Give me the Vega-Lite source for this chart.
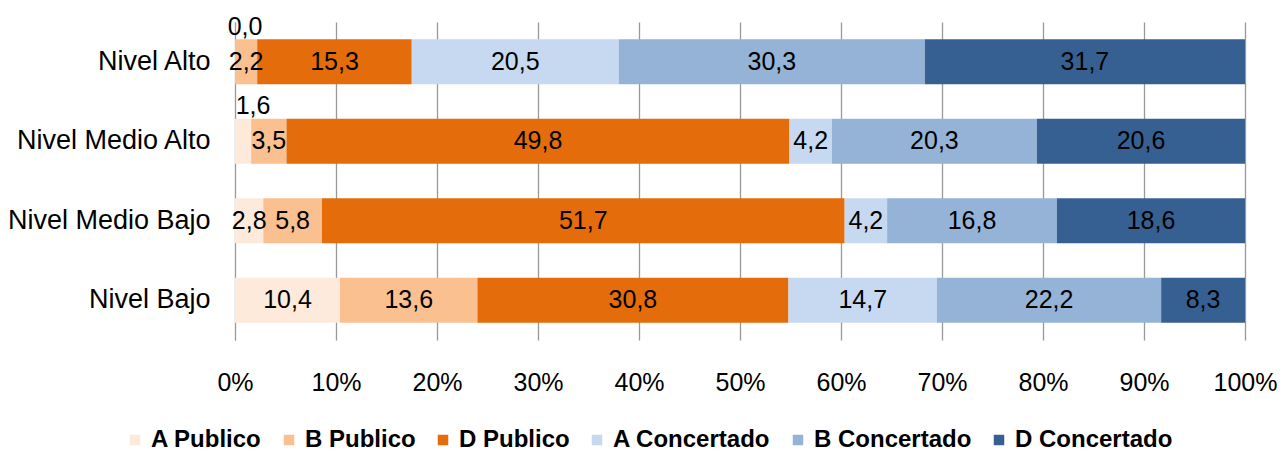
{
  "$schema": "https://vega.github.io/schema/vega-lite/v6.json",
  "width": 1010,
  "height": 318,
  "autosize": "none",
  "padding": {"left": 235, "top": 22, "right": 35, "bottom": 111},
  "background": "white",
  "config": {
    "locale": {"number": {"decimal": ",", "thousands": ".", "grouping": [3], "currency": ["", " €"]}},
    "view": {"stroke": null},
    "font": "Liberation Sans"
  },
  "data": {
    "values": [
      {"nivel": "Nivel Alto", "tipo": "A Publico", "orden": 1, "valor": 0.0},
      {"nivel": "Nivel Alto", "tipo": "B Publico", "orden": 2, "valor": 2.2},
      {"nivel": "Nivel Alto", "tipo": "D Publico", "orden": 3, "valor": 15.3},
      {"nivel": "Nivel Alto", "tipo": "A Concertado", "orden": 4, "valor": 20.5},
      {"nivel": "Nivel Alto", "tipo": "B Concertado", "orden": 5, "valor": 30.3},
      {"nivel": "Nivel Alto", "tipo": "D Concertado", "orden": 6, "valor": 31.7},
      {"nivel": "Nivel Medio Alto", "tipo": "A Publico", "orden": 1, "valor": 1.6},
      {"nivel": "Nivel Medio Alto", "tipo": "B Publico", "orden": 2, "valor": 3.5},
      {"nivel": "Nivel Medio Alto", "tipo": "D Publico", "orden": 3, "valor": 49.8},
      {"nivel": "Nivel Medio Alto", "tipo": "A Concertado", "orden": 4, "valor": 4.2},
      {"nivel": "Nivel Medio Alto", "tipo": "B Concertado", "orden": 5, "valor": 20.3},
      {"nivel": "Nivel Medio Alto", "tipo": "D Concertado", "orden": 6, "valor": 20.6},
      {"nivel": "Nivel Medio Bajo", "tipo": "A Publico", "orden": 1, "valor": 2.8},
      {"nivel": "Nivel Medio Bajo", "tipo": "B Publico", "orden": 2, "valor": 5.8},
      {"nivel": "Nivel Medio Bajo", "tipo": "D Publico", "orden": 3, "valor": 51.7},
      {"nivel": "Nivel Medio Bajo", "tipo": "A Concertado", "orden": 4, "valor": 4.2},
      {"nivel": "Nivel Medio Bajo", "tipo": "B Concertado", "orden": 5, "valor": 16.8},
      {"nivel": "Nivel Medio Bajo", "tipo": "D Concertado", "orden": 6, "valor": 18.6},
      {"nivel": "Nivel Bajo", "tipo": "A Publico", "orden": 1, "valor": 10.4},
      {"nivel": "Nivel Bajo", "tipo": "B Publico", "orden": 2, "valor": 13.6},
      {"nivel": "Nivel Bajo", "tipo": "D Publico", "orden": 3, "valor": 30.8},
      {"nivel": "Nivel Bajo", "tipo": "A Concertado", "orden": 4, "valor": 14.7},
      {"nivel": "Nivel Bajo", "tipo": "B Concertado", "orden": 5, "valor": 22.2},
      {"nivel": "Nivel Bajo", "tipo": "D Concertado", "orden": 6, "valor": 8.3}
    ]
  },
  "transform": [
    {"stack": "valor", "groupby": ["nivel"], "sort": [{"field": "orden"}], "as": ["x0", "x1"], "offset": "normalize"},
    {"calculate": "(datum.x0 + datum.x1) / 2", "as": "xm"}
  ],
  "encoding": {
    "y": {
      "field": "nivel", "type": "nominal",
      "sort": ["Nivel Alto", "Nivel Medio Alto", "Nivel Medio Bajo", "Nivel Bajo"],
      "scale": {"paddingInner": 0.434, "paddingOuter": 0.217},
      "axis": {"title": null, "ticks": false, "domain": true, "domainColor": "#999999", "labelFontSize": 27, "labelColor": "#000000", "labelPadding": 25, "labelLimit": 0, "labelFont": "Liberation Sans"}
    }
  },
  "layer": [
    {
      "mark": {"type": "bar"},
      "encoding": {
        "x": {
          "field": "x0", "type": "quantitative",
          "scale": {"domain": [0, 1], "nice": false},
          "axis": {"title": null, "format": ".0%", "values": [0,0.1,0.2,0.3,0.4,0.5,0.6,0.7,0.8,0.9,1], "labelOverlap": false, "labelFlush": false, "grid": true, "gridColor": "#999999", "gridWidth": 1.3, "domain": false, "ticks": false, "labelFontSize": 25, "labelColor": "#000000", "labelPadding": 30, "labelFont": "Liberation Sans"}
        },
        "x2": {"field": "x1"},
        "color": {
          "field": "tipo", "type": "nominal",
          "scale": {
            "domain": ["A Publico", "B Publico", "D Publico", "A Concertado", "B Concertado", "D Concertado"],
            "range": ["#FDEADA", "#FAC090", "#E46C0A", "#C6D9F1", "#95B3D7", "#376092"]
          },
          "legend": {
            "title": null, "orient": "none", "direction": "horizontal",
            "legendX": -112, "legendY": 406,
            "symbolType": "square", "symbolSize": 110, "symbolStrokeWidth": 0,
            "labelFontSize": 24, "labelFontWeight": "bold", "labelColor": "#000000", "labelFont": "Liberation Sans",
            "labelOffset": 4, "columnPadding": 15
          }
        }
      }
    },
    {
      "transform": [{"filter": "datum.valor >= 2"}],
      "mark": {"type": "text", "fontSize": 25, "color": "#000000", "font": "Liberation Sans"},
      "encoding": {
        "x": {"field": "xm", "type": "quantitative"},
        "text": {"field": "valor", "type": "quantitative", "format": ".1f"}
      }
    },
    {
      "transform": [{"filter": "datum.valor < 2"}],
      "mark": {"type": "text", "fontSize": 25, "color": "#000000", "font": "Liberation Sans", "dx": 10, "dy": -35},
      "encoding": {
        "x": {"field": "xm", "type": "quantitative"},
        "text": {"field": "valor", "type": "quantitative", "format": ".1f"}
      }
    }
  ]
}
